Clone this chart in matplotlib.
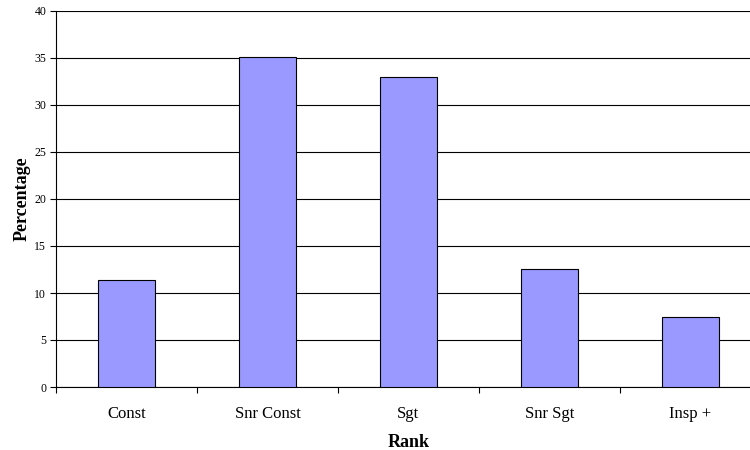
import matplotlib
matplotlib.use("Agg")
import matplotlib.pyplot as plt
import numpy as np

categories = ["Const", "Snr Const", "Sgt", "Snr Sgt", "Insp +"]
values = [11.4, 35.1, 33.0, 12.6, 7.5]
yticks = [0, 5, 10, 15, 20, 25, 30, 35, 40]

plt.rcParams['font.family'] = ['Liberation Serif', 'DejaVu Serif']

fig = plt.figure(figsize=(7.5, 4.5), dpi=100)
ax = fig.add_axes([56/750, 1-387/450, (761-56)/750, (387-11)/450])

x = np.arange(len(categories))
ax.bar(x, values, width=0.4, color='#9999FF', edgecolor='black', linewidth=0.8, zorder=3)

ax.set_xlim(-0.5, len(categories) - 0.5)
ax.set_ylim(0, 40)
ax.set_yticks(yticks)
ax.set_yticklabels([str(t) for t in yticks], fontsize=8.5)
ax.yaxis.grid(True, color='black', linewidth=0.8, zorder=0)
ax.set_axisbelow(True)

ax.set_xticks(x)
ax.set_xticklabels(categories, fontsize=12)
ax.tick_params(axis='x', length=0, pad=14)
ax.set_xticks(np.arange(len(categories) + 1) - 0.5, minor=True)
ax.tick_params(axis='x', which='minor', length=4, width=0.8, direction='out')
ax.tick_params(axis='y', length=4, width=0.8, direction='out', pad=3)

for s in ['top', 'right']:
    ax.spines[s].set_visible(False)
ax.spines['left'].set_linewidth(0.8)
ax.spines['bottom'].set_linewidth(0.8)

ax.set_ylabel('Percentage', fontsize=13, fontweight='bold', labelpad=3)
ax.set_xlabel('Rank', fontsize=13, fontweight='bold', labelpad=8)

fig.savefig('out.png', dpi=100)
